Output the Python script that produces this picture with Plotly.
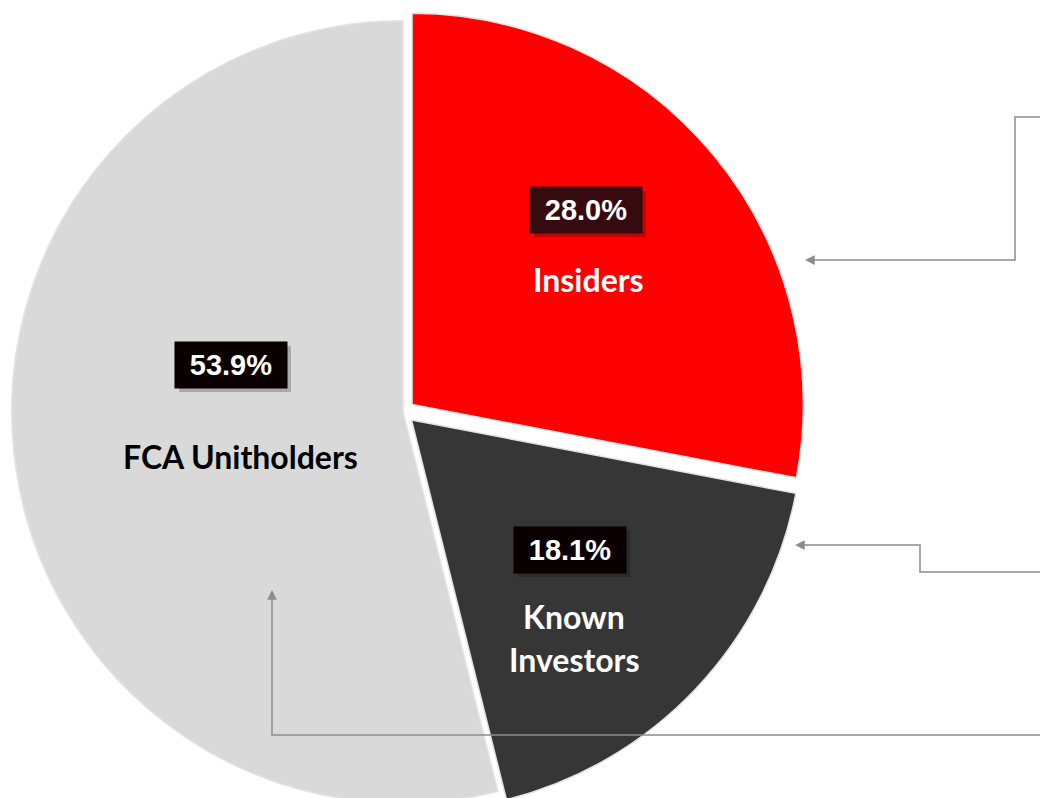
import plotly.graph_objects as go

labels = ["Insiders", "Known Investors", "FCA Unitholders"]
shares = [28.0, 18.1, 53.9]
colors = ["#ff0000", "#363636", "#d9d9d9"]
pulls = [0.03, 0.03, 0.0]

W, H = 1040, 830   # drawn a bit taller than the window, bottom gets clipped like the original

# text placement (pixels from top-left) for the labels
pct_pos = {"Insiders": (586, 210), "Known Investors": (570, 550), "FCA Unitholders": (231, 365)}
name_lines = {
    "Insiders": [("Insiders", 588, 279)],
    "Known Investors": [("Known", 574, 616), ("Investors", 574, 659)],
    "FCA Unitholders": [("FCA Unitholders", 240, 456)],
}
name_color = {"Insiders": "white", "Known Investors": "white", "FCA Unitholders": "black"}
box_color = {"Insiders": "#360b10", "Known Investors": "#0b0000", "FCA Unitholders": "#0b0000"}
BOX_W, BOX_H = 112, 46


def px(x, y):
    return x / W, 1 - y / H


fig = go.Figure(go.Pie(
    labels=labels,
    values=shares,
    sort=False,
    direction="clockwise",
    rotation=0,
    pull=pulls,
    marker=dict(colors=colors, line=dict(color="#e3e3e3", width=1.5)),
    textinfo="none",
    hoverinfo="label+percent",
    domain=dict(x=[0, 806 / W], y=[(H - 815) / H, (H - 9) / H]),
    showlegend=False,
))

annotations = []
shapes = []
for lab, val in zip(labels, shares):
    cx, cy = pct_pos[lab]
    # soft drop shadow behind the % box
    x0, y0 = px(cx - BOX_W / 2 + 4, cy + BOX_H / 2 + 4)
    x1, y1 = px(cx + BOX_W / 2 + 4, cy - BOX_H / 2 + 4)
    shapes.append(dict(type="rect", xref="paper", yref="paper",
                       x0=x0, y0=y0, x1=x1, y1=y1,
                       fillcolor="rgba(0,0,0,0.22)", line=dict(width=0)))
    x, y = px(cx, cy)
    annotations.append(dict(
        x=x, y=y, xref="paper", yref="paper", showarrow=False,
        text="<b>%.1f%%</b>" % val,
        xanchor="center", yanchor="middle",
        font=dict(family="Liberation Sans, Arial", size=29, color="white"),
        width=BOX_W - 12, height=BOX_H - 12, borderpad=6,
        bgcolor=box_color[lab],
    ))
    for t, lx, ly in name_lines[lab]:
        x, y = px(lx, ly)
        annotations.append(dict(
            x=x, y=y, xref="paper", yref="paper", showarrow=False,
            text="<b>%s</b>" % t, xanchor="center", yanchor="middle",
            font=dict(family="Lato, Open Sans", size=32, color=name_color[lab]),
        ))

# connector lines coming in from the right
paths = [
    [(1040, 117), (1015, 117), (1015, 260), (812, 260)],
    [(1040, 572), (920, 572), (920, 545), (802, 545)],
    [(1040, 735), (272, 735), (272, 598)],
]
heads = [((805, 260), (815, 260)), ((795, 545), (805, 545)), ((272, 590), (272, 600))]

for pts in paths:
    d = "M " + " L ".join("%f,%f" % px(*p) for p in pts)
    shapes.append(dict(type="path", path=d, xref="paper", yref="paper",
                       line=dict(color="#8c8c8c", width=1.5)))

for (tip, tail) in heads:
    x, y = px(*tip)
    annotations.append(dict(
        x=x, y=y, xref="paper", yref="paper", text="",
        showarrow=True, arrowhead=2, arrowsize=1.3, arrowwidth=1.5,
        arrowcolor="#8c8c8c", ax=tail[0] - tip[0], ay=tail[1] - tip[1],
    ))

fig.update_layout(
    width=W, height=H,
    margin=dict(l=0, r=0, t=0, b=0),
    paper_bgcolor="white",
    plot_bgcolor="white",
    annotations=annotations,
    shapes=shapes,
)

fig.write_html("out.html", config={"displayModeBar": False},
               post_script="document.body.style.margin='0';document.body.style.overflow='hidden';")
